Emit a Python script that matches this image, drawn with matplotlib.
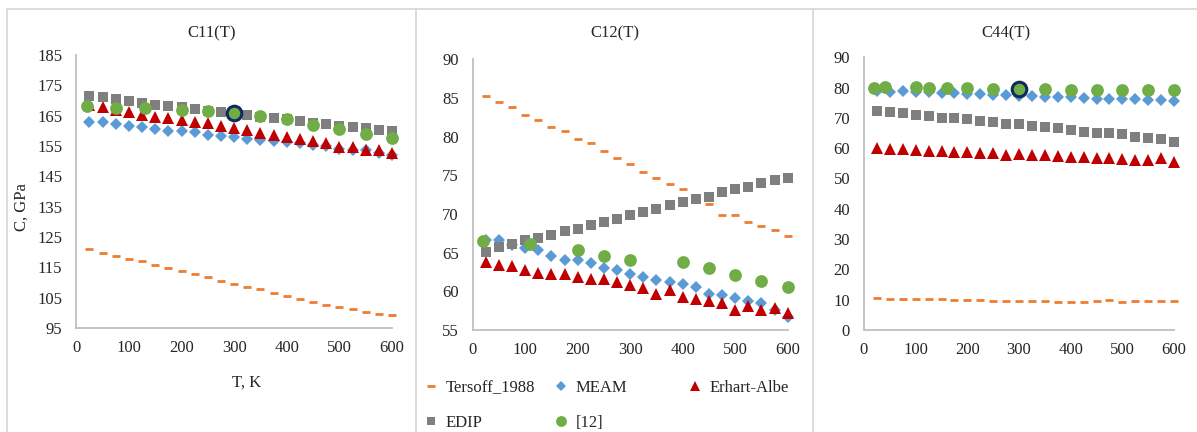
import matplotlib
matplotlib.use('Agg')
import matplotlib.pyplot as plt
from matplotlib.lines import Line2D

plt.rcParams['font.family'] = ['Liberation Serif', 'DejaVu Serif']
plt.rcParams['font.size'] = 12

# temperature grid of the MD series, K
temps = [25, 50, 75, 100, 125, 150, 175, 200, 225, 250, 275, 300,
         325, 350, 375, 400, 425, 450, 475, 500, 525, 550, 575, 600]

# C11(T), GPa
tersoff_c11 = [120.9, 119.6, 118.8, 117.9, 117.0, 115.7, 114.8, 113.7, 112.9, 111.8, 110.5, 109.6,
               108.5, 107.7, 106.6, 105.6, 104.6, 103.7, 102.7, 101.9, 101.1, 100.3, 99.7, 99.3]
meam_c11 = [163.0, 163.0, 162.3, 161.6, 161.4, 160.7, 160.1, 160.0, 159.5, 158.6, 158.3, 157.9,
            157.4, 157.0, 156.7, 156.3, 155.9, 155.2, 155.0, 154.1, 153.7, 153.7, 152.8, 152.0]
erhart_c11 = [168.5, 167.8, 166.9, 166.3, 165.2, 164.7, 164.3, 163.6, 163.0, 162.5, 161.7, 160.9,
              160.3, 159.2, 158.7, 157.9, 157.2, 156.8, 156.1, 154.8, 154.6, 153.7, 153.7, 152.8]
edip_c11 = [171.6, 171.0, 170.5, 169.8, 169.1, 168.6, 168.3, 167.7, 167.2, 166.5, 166.1, 165.7,
            165.1, 164.6, 164.1, 163.8, 163.2, 162.7, 162.1, 161.6, 161.1, 160.8, 160.2, 159.9]
ref_t_c11 = [20, 75, 130, 200, 250, 300, 350, 400, 450, 500, 550, 600]
ref_c11 = [168.2, 167.6, 167.4, 166.9, 166.4, 165.8, 165.0, 163.9, 161.9, 160.6, 158.9, 157.5]

# C12(T), GPa
tersoff_c12 = [85.3, 84.5, 83.8, 82.8, 82.2, 81.3, 80.7, 79.7, 79.2, 78.2, 77.2, 76.4,
               75.4, 74.6, 73.9, 73.2, 72.2, 71.3, 69.9, 69.9, 69.0, 68.5, 67.9, 67.2]
meam_c12 = [66.6, 66.6, 66.0, 65.6, 65.3, 64.6, 64.0, 64.0, 63.6, 63.0, 62.7, 62.2,
            61.8, 61.5, 61.2, 61.0, 60.6, 59.7, 59.5, 59.2, 58.7, 58.5, 57.6, 56.7]
erhart_c12 = [63.8, 63.4, 63.3, 62.8, 62.4, 62.2, 62.2, 61.8, 61.6, 61.6, 61.2, 60.8,
              60.4, 59.7, 60.2, 59.3, 59.0, 58.8, 58.5, 57.6, 58.1, 57.6, 57.8, 57.2]
edip_c12 = [65.1, 65.7, 66.1, 66.6, 66.9, 67.3, 67.8, 68.1, 68.6, 69.0, 69.4, 69.9,
            70.3, 70.6, 71.1, 71.5, 71.9, 72.2, 72.8, 73.2, 73.5, 74.0, 74.4, 74.7]
ref_t_c12 = [20, 110, 200, 250, 300, 400, 450, 500, 550, 600]
ref_c12 = [66.5, 66.1, 65.3, 64.6, 64.1, 63.8, 63.0, 62.1, 61.4, 60.6]

# C44(T), GPa
tersoff_c44 = [10.5, 10.3, 10.1, 10.1, 10.1, 10.1, 9.9, 9.9, 9.9, 9.7, 9.7, 9.7,
               9.7, 9.7, 9.4, 9.4, 9.4, 9.6, 9.8, 9.4, 9.6, 9.6, 9.6, 9.6]
meam_c44 = [78.9, 78.7, 78.9, 78.6, 78.4, 78.2, 78.2, 77.9, 77.9, 77.7, 77.6, 77.2,
            77.2, 77.0, 76.9, 76.8, 76.7, 76.4, 76.4, 76.1, 76.1, 75.9, 75.9, 75.7]
erhart_c44 = [60.0, 59.6, 59.6, 59.4, 59.1, 59.1, 58.9, 58.9, 58.5, 58.3, 57.8, 58.0,
              57.7, 57.7, 57.4, 57.0, 57.0, 56.7, 56.7, 56.3, 56.1, 56.1, 56.7, 55.5]
edip_c44 = [72.3, 72.0, 71.5, 71.1, 70.7, 70.0, 70.0, 69.6, 69.1, 68.7, 68.1, 67.9,
            67.2, 66.9, 66.6, 66.0, 65.5, 65.1, 64.9, 64.6, 63.8, 63.4, 63.0, 62.1]
ref_t_c44 = [20, 40, 100, 125, 160, 200, 250, 300, 350, 400, 450, 500, 550, 600]
ref_c44 = [79.8, 80.1, 80.1, 79.9, 79.9, 79.8, 79.5, 79.4, 79.5, 79.2, 79.2, 79.2, 79.2, 79.2]

labels = ['Tersoff_1988', 'MEAM', 'Erhart-Albe', 'EDIP', '[12]']
x_ticks = [0, 100, 200, 300, 400, 500, 600]

ORANGE = '#ED7D31'
BLUE = '#5B9BD5'
RED = '#C00000'
GRAY = '#7F7F7F'
GREEN = '#70AD47'
NAVY = '#0F2A5C'
AXIS = '#BFBFBF'
FRAME = '#D9D9D9'
TEXT = '#262626'

styles = [
    dict(marker='_', ms=6, mew=2.0, color=ORANGE),
    dict(marker='D', ms=5.8, mew=0, color=BLUE),
    dict(marker='^', ms=8.2, mew=0, color=RED),
    dict(marker='s', ms=7.6, mew=0, color=GRAY),
    dict(marker='o', ms=9.2, mew=0, color=GREEN),
]

W, H = 1197, 432
fig = plt.figure(figsize=(W / 100, H / 100), dpi=100)


def px_axes(x0, y0, x1, y1):
    # axes rectangle given in pixel coordinates, y measured from the top
    return fig.add_axes([x0 / W, 1 - y1 / H, (x1 - x0) / W, (y1 - y0) / H])


panels = [
    dict(box=(76.3, 55, 392, 328), ylim=(95, 185), yticks=range(95, 186, 10),
         series=[tersoff_c11, meam_c11, erhart_c11, edip_c11], ref=(ref_t_c11, ref_c11),
         title='C11(T)', cx=211.5, mark=300),
    dict(box=(472.7, 59.3, 787.7, 330), ylim=(55, 90), yticks=range(55, 91, 5),
         series=[tersoff_c12, meam_c12, erhart_c12, edip_c12], ref=(ref_t_c12, ref_c12),
         title='C12(T)', cx=614.5, mark=None),
    dict(box=(864, 57.3, 1174, 330), ylim=(0, 90), yticks=range(0, 91, 10),
         series=[tersoff_c44, meam_c44, erhart_c44, edip_c44], ref=(ref_t_c44, ref_c44),
         title='C44(T)', cx=1006, mark=300),
]

handles = []
for p in panels:
    ax = px_axes(*p['box'])
    hs = []
    for k, vals in enumerate(p['series']):
        h, = ax.plot(temps, vals, ls='none', zorder=3 + k, clip_on=False, **styles[k])
        hs.append(h)
    rt, rv = p['ref']
    h, = ax.plot(rt, rv, ls='none', zorder=8, clip_on=False, **styles[4])
    hs.append(h)
    if p['mark'] is not None:
        i = rt.index(p['mark'])
        ax.plot(rt[i], rv[i], ls='none', marker='o', ms=10.5, mfc=GREEN,
                mec=NAVY, mew=2.2, zorder=9, clip_on=False)
    handles = hs

    ax.set_xlim(0, 600)
    ax.set_ylim(*p['ylim'])
    ax.set_xticks(x_ticks)
    ax.set_yticks(list(p['yticks']))
    for s in ['top', 'right']:
        ax.spines[s].set_visible(False)
    for s in ['left', 'bottom']:
        ax.spines[s].set_color(AXIS)
        ax.spines[s].set_linewidth(1.3)
    ax.tick_params(length=0, labelsize=12, labelcolor=TEXT)
    ax.tick_params(axis='y', pad=10)
    ax.tick_params(axis='x', pad=9)
    ax.set_facecolor('none')
    fig.text(p['cx'] / W, 1 - 33 / H, p['title'], ha='center', va='center',
             fontsize=12, color=TEXT)

# axis titles of the first panel
fig.text(22 / W, 1 - 207 / H, 'C, GPa', rotation=90, ha='center', va='center',
         fontsize=12, color=TEXT)
fig.text(247 / W, 1 - 383 / H, 'T, K', ha='center', va='center', fontsize=12, color=TEXT)

# legend below the middle panel, three columns
columns = [(423, [0, 3]), (553, [1, 4]), (687, [2])]
for x0, idx in columns:
    fig.legend([handles[j] for j in idx], [labels[j] for j in idx],
               loc='upper left', bbox_to_anchor=(x0 / W, 1 - 380 / H),
               frameon=False, fontsize=12, handlelength=1.0, handletextpad=0.35,
               labelspacing=1.15, borderpad=0, borderaxespad=0, labelcolor=TEXT,
               markerscale=0.85)

# chart frames
frame_kw = dict(color=FRAME, lw=1.3, transform=fig.transFigure)
fig.add_artist(Line2D([7 / W, 1], [1 - 8.7 / H, 1 - 8.7 / H], **frame_kw))
for xf in [7, 416, 813]:
    fig.add_artist(Line2D([xf / W, xf / W], [0, 1 - 8.7 / H], **frame_kw))

fig.savefig('out.png', dpi=100, facecolor='white')
